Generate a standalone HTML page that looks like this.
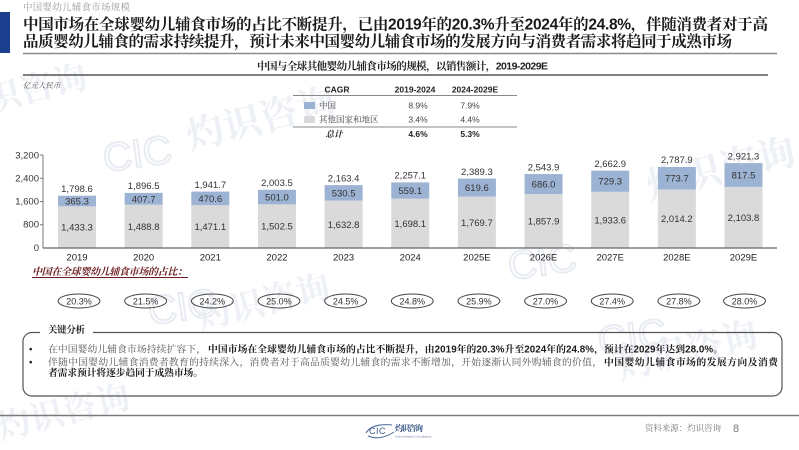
<!DOCTYPE html>
<html>
<head>
<meta charset="utf-8">
<style>
html,body{margin:0;padding:0;background:#fff;}
body{width:799px;height:450px;overflow:hidden;}
svg{display:block;}
.cn{font-family:"Liberation Sans","Noto Serif CJK SC",serif;}
.sans{font-family:"Liberation Sans","Noto Sans CJK SC",sans-serif;}
</style>
</head>
<body>
<svg width="799" height="450" viewBox="0 0 799 450" xmlns="http://www.w3.org/2000/svg">
  <rect width="799" height="450" fill="#fff"/>

  <!-- faint watermarks -->
  <g class="cn" fill="#edf0f5" font-weight="700">
    <text x="-10" y="112" font-size="34" transform="rotate(-14 -10 112)">识咨询</text>
    <text x="190" y="150" font-size="38" transform="rotate(-14 190 150)">灼识咨询</text>
    <text x="650" y="200" font-size="38" transform="rotate(-14 650 200)">灼识咨询</text>
    <text x="200" y="330" font-size="34" transform="rotate(-14 200 330)">灼识咨询</text>
    <text x="620" y="380" font-size="36" transform="rotate(-14 620 380)">灼识咨询</text>
    <text x="0" y="440" font-size="34" transform="rotate(-14 0 440)">灼识咨询</text>
  </g>
  <g class="sans" fill="none" stroke="#e8ecf2" stroke-width="2" font-size="40">
    <text x="105" y="172" transform="rotate(-8 105 172)">CIC</text>
    <text x="510" y="280" transform="rotate(-8 510 280)">CIC</text>
    <text x="150" y="325" transform="rotate(-8 150 325)">CIC</text>
    <text x="600" y="355" transform="rotate(-8 600 355)">CIC</text>
  </g>

  <!-- header -->
  <rect x="0" y="12" width="10" height="41" fill="#1c3f8e"/>
  <text class="cn" x="23" y="10.5" font-size="9.5" fill="#9a9a9a" textLength="107">中国婴幼儿辅食市场规模</text>
  <text class="cn" x="23" y="29.5" font-size="15.5" font-weight="700" fill="#1a1a1a" textLength="745" lengthAdjust="spacing">中国市场在全球婴幼儿辅食市场的占比不断提升，已由2019年的20.3%升至2024年的24.8%，伴随消费者对于高</text>
  <text class="cn" x="23" y="46.5" font-size="15.5" font-weight="700" fill="#1a1a1a" textLength="709" lengthAdjust="spacing">品质婴幼儿辅食的需求持续提升，预计未来中国婴幼儿辅食市场的发展方向与消费者需求将趋同于成熟市场</text>
  <line x1="23" y1="53.5" x2="777" y2="53.5" stroke="#8a8a8a" stroke-width="1.4"/>

  <text class="cn" x="257" y="69.5" font-size="10.5" font-weight="700" fill="#222" textLength="291" lengthAdjust="spacing">中国与全球其他婴幼儿辅食市场的规模，以销售额计，2019-2029E</text>
  <line x1="23" y1="75" x2="768" y2="75" stroke="#555" stroke-width="1.5"/>

  <text class="cn" x="23" y="88" font-size="7.5" font-style="italic" fill="#555">亿元人民币</text>

  <!-- CAGR table -->
  <g class="sans" font-size="8.5" fill="#222">
    <text x="337" y="92.5" text-anchor="middle" font-weight="700">CAGR</text>
    <text x="415" y="92.5" text-anchor="middle" font-weight="700">2019-2024</text>
    <text x="475" y="92.5" text-anchor="middle" font-weight="700">2024-2029E</text>
    <line x1="293" y1="95.5" x2="517" y2="95.5" stroke="#888" stroke-width="1"/>
    <rect x="304" y="102" width="11" height="7" fill="#9cb2d4"/>
    <text class="cn" x="319" y="108.5" font-size="8.5" fill="#444">中国</text>
    <text x="418" y="108.5" text-anchor="middle" fill="#444">8.9%</text>
    <text x="470" y="108.5" text-anchor="middle" fill="#444">7.9%</text>
    <rect x="304" y="116" width="11" height="7" fill="#d9d9d9"/>
    <text class="cn" x="319" y="122.5" font-size="8.5" fill="#444">其他国家和地区</text>
    <text x="418" y="122.5" text-anchor="middle" fill="#444">3.4%</text>
    <text x="470" y="122.5" text-anchor="middle" fill="#444">4.4%</text>
    <line x1="293" y1="127" x2="517" y2="127" stroke="#888" stroke-width="1"/>
    <text class="cn" x="334" y="137" text-anchor="middle" font-weight="700" font-style="italic">总计</text>
    <text x="418" y="137" text-anchor="middle" font-weight="700">4.6%</text>
    <text x="470" y="137" text-anchor="middle" font-weight="700">5.3%</text>
  </g>

  <!-- y axis -->
  <g class="sans" font-size="9.5" fill="#333" text-anchor="end">
    <text x="39" y="158.5">3,200</text>
    <text x="39" y="181.5">2,400</text>
    <text x="39" y="204.5">1,600</text>
    <text x="39" y="227.5">800</text>
    <text x="39" y="251">0</text>
  </g>
  <g stroke="#777" stroke-width="1">
    <line x1="43" y1="155" x2="43" y2="248"/>
    <line x1="40" y1="155" x2="43" y2="155"/>
    <line x1="40" y1="178.25" x2="43" y2="178.25"/>
    <line x1="40" y1="201.5" x2="43" y2="201.5"/>
    <line x1="40" y1="224.75" x2="43" y2="224.75"/>
  </g>

  <!-- bars -->
  <g fill="#dadada">
    <rect x="58" y="206.35" width="38" height="41.65"/>
    <rect x="124.65" y="204.74" width="38" height="43.26"/>
    <rect x="191.3" y="205.25" width="38" height="42.75"/>
    <rect x="257.95" y="204.34" width="38" height="43.66"/>
    <rect x="324.6" y="200.55" width="38" height="47.45"/>
    <rect x="391.25" y="198.65" width="38" height="49.35"/>
    <rect x="457.9" y="196.57" width="38" height="51.43"/>
    <rect x="524.55" y="194.01" width="38" height="53.99"/>
    <rect x="591.2" y="191.81" width="38" height="56.19"/>
    <rect x="657.85" y="189.47" width="38" height="58.53"/>
    <rect x="724.5" y="186.86" width="38" height="61.14"/>
  </g>
  <g fill="#9db3d4">
    <rect x="58" y="195.73" width="38" height="10.62"/>
    <rect x="124.65" y="192.89" width="38" height="11.85"/>
    <rect x="191.3" y="191.57" width="38" height="13.68"/>
    <rect x="257.95" y="189.78" width="38" height="14.56"/>
    <rect x="324.6" y="185.13" width="38" height="15.42"/>
    <rect x="391.25" y="182.41" width="38" height="16.24"/>
    <rect x="457.9" y="178.57" width="38" height="18.0"/>
    <rect x="524.55" y="174.07" width="38" height="19.94"/>
    <rect x="591.2" y="170.62" width="38" height="21.19"/>
    <rect x="657.85" y="166.98" width="38" height="22.49"/>
    <rect x="724.5" y="163.11" width="38" height="23.75"/>
  </g>
  <line x1="43" y1="248" x2="777" y2="248" stroke="#666" stroke-width="1.2"/>

  <!-- bar labels -->
  <g class="sans" font-size="9.5" fill="#333" text-anchor="middle">
    <text x="77" y="192">1,798.6</text>
    <text x="143.65" y="189">1,896.5</text>
    <text x="210.3" y="187.8">1,941.7</text>
    <text x="276.95" y="186">2,003.5</text>
    <text x="343.6" y="181.3">2,163.4</text>
    <text x="410.25" y="178.6">2,257.1</text>
    <text x="476.9" y="174.8">2,389.3</text>
    <text x="543.55" y="170.3">2,543.9</text>
    <text x="610.2" y="166.8">2,662.9</text>
    <text x="676.85" y="163.2">2,787.9</text>
    <text x="743.5" y="159.3">2,921.3</text>

    <text x="77" y="204.5">365.3</text>
    <text x="143.65" y="202.3">407.7</text>
    <text x="210.3" y="201.9">470.6</text>
    <text x="276.95" y="200.6">501.0</text>
    <text x="343.6" y="196.3">530.5</text>
    <text x="410.25" y="194">559.1</text>
    <text x="476.9" y="191.1">619.6</text>
    <text x="543.55" y="187.5">686.0</text>
    <text x="610.2" y="184.7">729.3</text>
    <text x="676.85" y="181.7">773.7</text>
    <text x="743.5" y="178.5">817.5</text>

    <text x="77" y="230.7">1,433.3</text>
    <text x="143.65" y="229.9">1,488.8</text>
    <text x="210.3" y="230.1">1,471.1</text>
    <text x="276.95" y="229.7">1,502.5</text>
    <text x="343.6" y="227.8">1,632.8</text>
    <text x="410.25" y="226.8">1,698.1</text>
    <text x="476.9" y="225.8">1,769.7</text>
    <text x="543.55" y="224.5">1,857.9</text>
    <text x="610.2" y="223.4">1,933.6</text>
    <text x="676.85" y="222.2">2,014.2</text>
    <text x="743.5" y="220.9">2,103.8</text>
  </g>

  <!-- x labels -->
  <g class="sans" font-size="9.5" fill="#222" text-anchor="middle">
    <text x="77" y="260.5">2019</text>
    <text x="143.65" y="260.5">2020</text>
    <text x="210.3" y="260.5">2021</text>
    <text x="276.95" y="260.5">2022</text>
    <text x="343.6" y="260.5">2023</text>
    <text x="410.25" y="260.5">2024</text>
    <text x="476.9" y="260.5">2025E</text>
    <text x="543.55" y="260.5">2026E</text>
    <text x="610.2" y="260.5">2027E</text>
    <text x="676.85" y="260.5">2028E</text>
    <text x="743.5" y="260.5">2029E</text>
  </g>

  <!-- share title -->
  <text class="cn" x="32" y="275" font-size="10" font-weight="700" font-style="italic" fill="#6b1c1c" textLength="155" lengthAdjust="spacing">中国在全球婴幼儿辅食市场的占比：</text>
  <line x1="32" y1="277.5" x2="188" y2="277.5" stroke="#6b1c1c" stroke-width="0.9"/>

  <!-- ellipses -->
  <g fill="none" stroke="#444" stroke-width="1">
    <ellipse cx="79" cy="301" rx="21" ry="7"/>
    <ellipse cx="145.65" cy="301" rx="21" ry="7"/>
    <ellipse cx="212.3" cy="301" rx="21" ry="7"/>
    <ellipse cx="278.95" cy="301" rx="21" ry="7"/>
    <ellipse cx="345.6" cy="301" rx="21" ry="7"/>
    <ellipse cx="412.25" cy="301" rx="21" ry="7"/>
    <ellipse cx="478.9" cy="301" rx="21" ry="7"/>
    <ellipse cx="545.55" cy="301" rx="21" ry="7"/>
    <ellipse cx="612.2" cy="301" rx="21" ry="7"/>
    <ellipse cx="678.85" cy="301" rx="21" ry="7"/>
    <ellipse cx="744.5" cy="301" rx="21" ry="7"/>
  </g>
  <g class="sans" font-size="9" fill="#333" text-anchor="middle">
    <text x="79" y="304.3">20.3%</text>
    <text x="145.65" y="304.3">21.5%</text>
    <text x="212.3" y="304.3">24.2%</text>
    <text x="278.95" y="304.3">25.0%</text>
    <text x="345.6" y="304.3">24.5%</text>
    <text x="412.25" y="304.3">24.8%</text>
    <text x="478.9" y="304.3">25.9%</text>
    <text x="545.55" y="304.3">27.0%</text>
    <text x="612.2" y="304.3">27.4%</text>
    <text x="678.85" y="304.3">27.8%</text>
    <text x="744.5" y="304.3">28.0%</text>
  </g>

  <!-- key analysis box -->
  <rect x="23" y="332.5" width="759" height="63.5" rx="9" ry="9" fill="none" stroke="#555" stroke-width="1.2"/>
  <rect x="40" y="328" width="53" height="8" fill="#fff"/>
  <text class="cn" x="48" y="333" font-size="9.5" font-weight="700" fill="#222" textLength="37">关键分析</text>

  <g class="cn" font-size="9.8">
    <text x="29" y="352.5" fill="#222" font-family="Liberation Sans">•</text>
    <text x="29" y="365.5" fill="#222" font-family="Liberation Sans">•</text>
    <text x="48" y="352.5" fill="#555" textLength="158" lengthAdjust="spacing">在中国婴幼儿辅食市场持续扩容下，</text>
    <text x="208" y="352.5" fill="#1a1a1a" font-weight="700" textLength="515" lengthAdjust="spacing">中国市场在全球婴幼儿辅食市场的占比不断提升，由2019年的20.3%升至2024年的24.8%，预计在2029年达到28.0%。</text>
    <text x="48" y="365.5" fill="#555" textLength="554" lengthAdjust="spacing">伴随中国婴幼儿辅食消费者教育的持续深入，消费者对于高品质婴幼儿辅食的需求不断增加，开始逐渐认同外购辅食的价值，</text>
    <text x="604" y="365.5" fill="#1a1a1a" font-weight="700" textLength="174" lengthAdjust="spacing">中国婴幼儿辅食市场的发展方向及消费</text>
    <text x="48" y="376" fill="#1a1a1a" font-weight="700" textLength="155" lengthAdjust="spacing">者需求预计将逐步趋同于成熟市场。</text>
  </g>

  <!-- footer -->
  <line x1="0" y1="415.5" x2="799" y2="415.5" stroke="#7a7a7a" stroke-width="1.5"/>
  <g>
    <path d="M366 433 Q372 423 392 425" fill="none" stroke="#4a6a9a" stroke-width="1"/>
    <path d="M368 436 Q380 441 394 432" fill="none" stroke="#4a6a9a" stroke-width="1"/>
    <text class="sans" x="369" y="434" font-size="9" fill="#3a5a8a" letter-spacing="0.5">CIC</text>
    <text class="cn" x="395" y="431" font-size="8" font-weight="700" fill="#2a4a80" textLength="28">灼识咨询</text>
    <text class="sans" x="395" y="437.5" font-size="3" fill="#6a7a9a">China Insights Consultancy</text>
  </g>
  <text class="cn" x="645" y="431" font-size="8.5" fill="#7a7a7a" textLength="76">资料来源：灼识咨询</text>
  <text class="sans" x="733" y="432" font-size="11" fill="#777">8</text>
</svg>
</body>
</html>
